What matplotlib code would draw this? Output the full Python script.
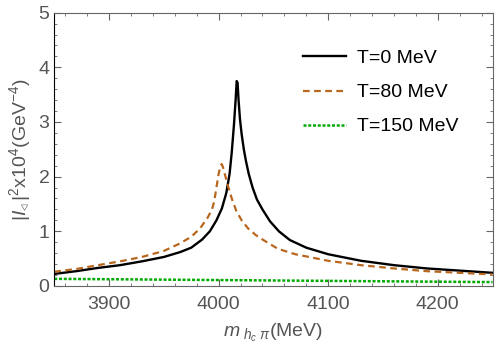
import matplotlib.pyplot as plt
import numpy as np
from matplotlib.ticker import MultipleLocator

plt.rcParams['font.family'] = ['Liberation Sans', 'DejaVu Sans']
plt.rcParams['mathtext.fontset'] = 'custom'
plt.rcParams['mathtext.rm'] = 'Liberation Sans'
plt.rcParams['mathtext.it'] = 'Liberation Sans:italic'

# T = 0 MeV
m0 = [3850, 3870, 3890, 3910, 3930, 3950, 3965, 3975, 3985, 3992, 3998, 4003,
      4007, 4010, 4012, 4014, 4015.5, 4016.5, 4017.3, 4018.2, 4019.5, 4021,
      4023, 4025, 4027.5, 4031, 4035, 4040, 4047, 4055, 4065, 4080, 4100,
      4130, 4160, 4190, 4220, 4250]
y0 = [0.22, 0.27, 0.33, 0.38, 0.45, 0.53, 0.62, 0.70, 0.85, 1.00, 1.20, 1.42,
      1.70, 2.05, 2.45, 2.95, 3.40, 3.75, 3.72, 3.40, 3.05, 2.78,
      2.50, 2.28, 2.05, 1.80, 1.58, 1.40, 1.18, 1.00, 0.84, 0.70, 0.58,
      0.46, 0.38, 0.32, 0.28, 0.24]

# T = 80 MeV
m80 = [3850, 3870, 3890, 3910, 3930, 3950, 3965, 3975, 3983, 3990, 3994, 3996,
       3998, 4000, 4001.5, 4002.8, 4004, 4006, 4009, 4012, 4016, 4021, 4027,
       4034, 4040, 4054, 4070, 4100, 4130, 4160, 4190, 4220, 4250]
y80 = [0.26, 0.31, 0.38, 0.45, 0.53, 0.64, 0.78, 0.90, 1.05, 1.25, 1.40, 1.55,
       1.80, 2.05, 2.18, 2.23, 2.17, 2.02, 1.80, 1.60, 1.38, 1.20, 1.05,
       0.93, 0.85, 0.68, 0.58, 0.46, 0.38, 0.32, 0.27, 0.24, 0.21]

# T = 150 MeV
m150 = [3850, 3950, 4050, 4150, 4250]
y150 = [0.13, 0.115, 0.10, 0.085, 0.07]

fig = plt.figure(figsize=(4.98, 3.53), dpi=100)
ax = fig.add_axes([0.109, 0.190, 0.880, 0.774])

ax.plot(m0, y0, color='black', lw=1.7, label='T=0 MeV')
ax.plot(m80, y80, color='#b8671e', lw=1.6, linestyle=(0, (3, 2)), label='T=80 MeV')
ax.plot(m150, y150, color='#00aa00', lw=1.8, linestyle=(0, (1.2, 0.7)), label='T=150 MeV')

ax.set_xlim(3850, 4250)
ax.set_ylim(0, 5)
ax.xaxis.set_major_locator(MultipleLocator(100))
ax.xaxis.set_minor_locator(MultipleLocator(20))
ax.yaxis.set_major_locator(MultipleLocator(1))
ax.yaxis.set_minor_locator(MultipleLocator(0.2))

grey = '#666666'
for s in ['top', 'right', 'bottom']:
    ax.spines[s].set_color(grey)
ax.spines['left'].set_color('black')
ax.tick_params(which='both', direction='in', top=True, right=True, colors=grey,
               labelsize=14, labelcolor='#555555')
ax.tick_params(which='major', length=5)
ax.tick_params(which='minor', length=2.5)
ax.tick_params(axis='x', which='major', pad=7)

ax.set_xlabel(r'$m_{\ h_c\ \pi}$(MeV)', fontsize=14, color='#555555', labelpad=7)
ax.set_ylabel(r'$|I_{\triangleleft}\,|^2$x10$^4$(GeV$^{-4}$)', fontsize=14,
              color='#555555')

ax.legend(loc='upper left', bbox_to_anchor=(0.567, 0.865), frameon=False,
          fontsize=14, handlelength=2.2, handletextpad=0.6, labelspacing=0.85,
          borderaxespad=0, borderpad=0)

fig.savefig('out.png', dpi=100)
